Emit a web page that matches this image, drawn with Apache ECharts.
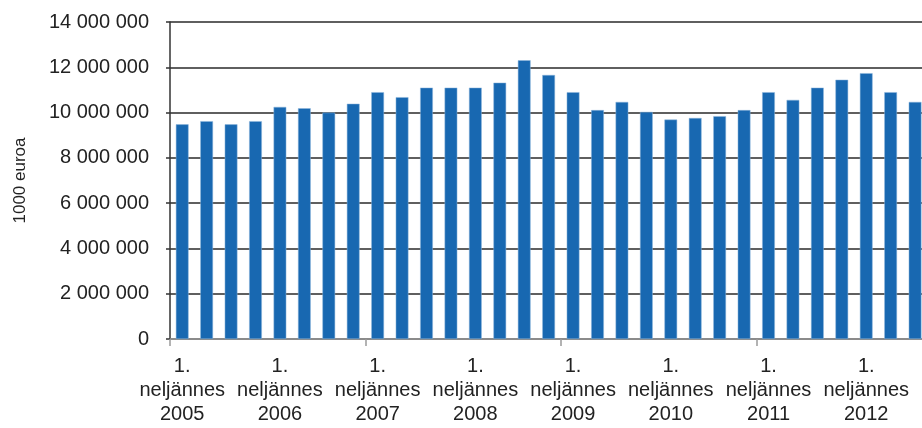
<!DOCTYPE html>
<html>
<head>
<meta charset="utf-8">
<script src="https://cdn.jsdelivr.net/npm/echarts@6/dist/echarts.min.js"></script>
<style>
html,body{margin:0;padding:0;background:#fff;}
#c{width:922px;height:428px;}
</style>
</head>
<body>
<div id="c"></div>
<script>
var years = ['2005','2006','2007','2008','2009','2010','2011','2012'];
var quarters = ['1.','2.','3.','4.'];
var values = [
  9480000, 9620000, 9480000, 9620000,
  10250000, 10190000, 10000000, 10390000,
  10900000, 10680000, 11100000, 11100000,
  11100000, 11320000, 12310000, 11660000,
  10900000, 10110000, 10470000, 10030000,
  9690000, 9760000, 9840000, 10110000,
  10900000, 10560000, 11100000, 11450000,
  11740000, 10900000, 10470000
];
var yTicks = [0, 2000000, 4000000, 6000000, 8000000, 10000000, 12000000, 14000000];
var yName = '1000 euroa';

var categories = [];
for (var i = 0; i < values.length; i++) {
  categories.push(quarters[i % 4] + ' neljännes ' + years[Math.floor(i / 4)]);
}

var FONT = '"Liberation Sans", Arial, sans-serif';
var chart = echarts.init(document.getElementById('c'), null, {renderer: 'canvas'});
chart.setOption({
  animation: false,
  backgroundColor: '#ffffff',
  grid: {left: 170, top: 22, width: 757.3, height: 317, containLabel: false, outerBoundsMode: 'none'},
  xAxis: {
    type: 'category',
    data: categories,
    boundaryGap: true,
    axisLine: {show: true, lineStyle: {color: '#9a9a9a', width: 1.5}},
    axisTick: {show: true, interval: 7, length: 7, lineStyle: {color: '#9a9a9a', width: 1.5}},
    axisLabel: {
      interval: 3,
      margin: 15,
      color: '#222',
      fontFamily: FONT,
      fontSize: 20,
      lineHeight: 24,
      formatter: function (v) { return v.replace(/ /g, '\n'); }
    },
    splitLine: {show: false}
  },
  yAxis: {
    type: 'value',
    min: yTicks[0],
    max: yTicks[yTicks.length - 1],
    interval: yTicks[1] - yTicks[0],
    name: yName,
    nameLocation: 'middle',
    nameGap: 141,
    nameRotate: 90,
    nameTextStyle: {color: '#222', fontFamily: FONT, fontSize: 17},
    axisLine: {show: true, lineStyle: {color: '#333', width: 1.5}},
    axisTick: {show: true, length: 4, lineStyle: {color: '#333', width: 1.5}},
    axisLabel: {
      margin: 21,
      color: '#222',
      fontFamily: FONT,
      fontSize: 20,
      formatter: function (v) { return String(v).replace(/\B(?=(\d{3})+(?!\d))/g, ' '); }
    },
    splitLine: {show: true, lineStyle: {color: '#2a2a2a', width: 1.5}}
  },
  series: [{
    type: 'bar',
    data: values,
    barWidth: '52%',
    itemStyle: {color: '#1868b1', borderColor: '#8fb6dc', borderWidth: 0.5}
  }]
});
</script>
</body>
</html>
